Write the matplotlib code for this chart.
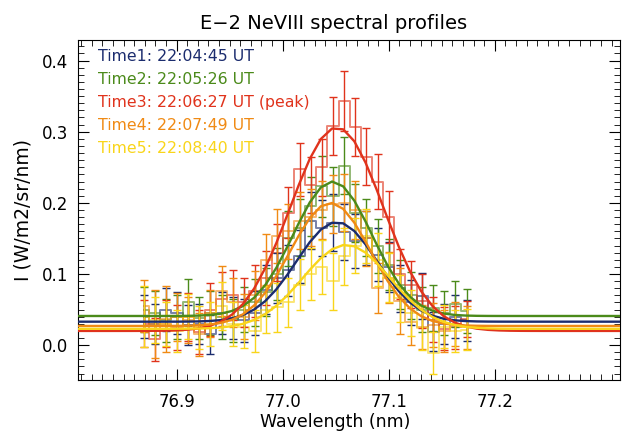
import numpy as np
import matplotlib
matplotlib.use("Agg")
import matplotlib.pyplot as plt
from matplotlib.ticker import MultipleLocator

# wavelength grid (nm), shared by all five profiles
wavelength = [76.8689, 76.8794, 76.8899, 76.9004, 76.9109, 76.9214, 76.9319, 76.9424,
              76.9529, 76.9634, 76.9739, 76.9844, 76.9949, 77.0054, 77.0159, 77.0264,
              77.0369, 77.0474, 77.0579, 77.0684, 77.0789, 77.0894, 77.0999, 77.1104,
              77.1209, 77.1314, 77.1419, 77.1524, 77.1629, 77.1734]

labels = ["Time1: 22:04:45 UT", "Time2: 22:05:26 UT", "Time3: 22:06:27 UT (peak)",
          "Time4: 22:07:49 UT", "Time5: 22:08:40 UT"]
colors = ["#1b2c6e", "#4b8a1a", "#e0331c", "#f08a14", "#f9d51a"]

# intensities, W/m2/sr/nm
t1 = [0.040, 0.030, 0.050, 0.045, 0.028, 0.030, 0.015, 0.045, 0.038, 0.035,
      0.045, 0.078, 0.094, 0.105, 0.125, 0.175, 0.165, 0.172, 0.159, 0.146,
      0.150, 0.127, 0.110, 0.080, 0.060, 0.069, 0.019, 0.030, 0.040, 0.035]
t2 = [0.050, 0.045, 0.035, 0.040, 0.060, 0.038, 0.045, 0.040, 0.035, 0.050,
      0.060, 0.075, 0.100, 0.150, 0.165, 0.195, 0.223, 0.209, 0.252, 0.186,
      0.165, 0.139, 0.113, 0.085, 0.070, 0.050, 0.052, 0.045, 0.058, 0.048]
t3 = [0.030, 0.008, 0.030, 0.025, 0.040, 0.018, 0.050, 0.065, 0.070, 0.060,
      0.076, 0.095, 0.130, 0.186, 0.247, 0.225, 0.250, 0.308, 0.343, 0.307,
      0.265, 0.230, 0.180, 0.100, 0.085, 0.062, 0.036, 0.023, 0.025, 0.037]
t4 = [0.055, 0.030, 0.037, 0.040, 0.035, 0.015, 0.045, 0.076, 0.060, 0.040,
      0.070, 0.120, 0.153, 0.160, 0.175, 0.180, 0.190, 0.198, 0.200, 0.190,
      0.150, 0.080, 0.095, 0.062, 0.032, 0.025, 0.028, 0.020, 0.030, 0.025]
t5 = [0.040, 0.035, 0.030, 0.020, 0.040, 0.025, 0.030, 0.055, 0.030, 0.026,
      0.020, 0.050, 0.053, 0.060, 0.085, 0.100, 0.110, 0.090, 0.125, 0.140,
      0.153, 0.120, 0.095, 0.066, 0.045, 0.024, -0.011, 0.026, 0.020, 0.022]

e1 = [0.030, 0.028, 0.030, 0.030, 0.028, 0.028, 0.027, 0.030, 0.030, 0.030,
      0.031, 0.034, 0.035, 0.036, 0.037, 0.040, 0.039, 0.040, 0.039, 0.038,
      0.038, 0.037, 0.035, 0.033, 0.032, 0.032, 0.027, 0.028, 0.030, 0.029]
e2 = [0.032, 0.031, 0.030, 0.031, 0.033, 0.030, 0.031, 0.031, 0.030, 0.032,
      0.033, 0.034, 0.036, 0.039, 0.040, 0.042, 0.043, 0.042, 0.040, 0.041,
      0.040, 0.038, 0.036, 0.034, 0.033, 0.032, 0.032, 0.031, 0.032, 0.031]
e3 = [0.033, 0.030, 0.033, 0.032, 0.034, 0.031, 0.037, 0.038, 0.035, 0.034,
      0.036, 0.038, 0.040, 0.036, 0.037, 0.039, 0.040, 0.041, 0.042, 0.041,
      0.040, 0.038, 0.036, 0.035, 0.033, 0.038, 0.032, 0.030, 0.030, 0.025]
e4 = [0.036, 0.048, 0.046, 0.034, 0.032, 0.030, 0.033, 0.035, 0.034, 0.032,
      0.034, 0.036, 0.038, 0.039, 0.040, 0.040, 0.041, 0.041, 0.040, 0.041,
      0.039, 0.035, 0.036, 0.047, 0.032, 0.031, 0.031, 0.030, 0.031, 0.030]
e5 = [0.043, 0.032, 0.031, 0.030, 0.032, 0.030, 0.031, 0.034, 0.031, 0.030,
      0.030, 0.033, 0.034, 0.035, 0.036, 0.037, 0.038, 0.040, 0.040, 0.039,
      0.038, 0.037, 0.035, 0.033, 0.032, 0.031, 0.030, 0.030, 0.030, 0.029]

# gaussian + constant fit parameters: base, amplitude, centre (nm), sigma (nm)
fit_base = [0.033, 0.041, 0.020, 0.027, 0.023]
fit_amp = [0.140, 0.189, 0.286, 0.173, 0.118]
fit_cen = [77.051, 77.047, 77.051, 77.045, 77.060]
fit_sig = [0.038, 0.037, 0.044, 0.038, 0.041]

profiles = [t1, t2, t3, t4, t5]
errors = [e1, e2, e3, e4, e5]

fig = plt.figure(figsize=(6.22, 4.36), dpi=100)
ax = fig.add_axes([0.1254, 0.1284, 0.8714, 0.78])

wl = np.array(wavelength)
dw = wl[1] - wl[0]
xfit = np.arange(76.70, 77.40, dw)

for y, e, c, b, a, m, s in zip(profiles, errors, colors, fit_base, fit_amp, fit_cen, fit_sig):
    ax.step(wl, y, where="mid", color=c, alpha=0.6, lw=1.4, zorder=2)
    ax.errorbar(wl, y, yerr=e, fmt="none", ecolor=c, elinewidth=1.0,
                capsize=3, capthick=1.0, zorder=3)
    ax.plot(xfit, b + a * np.exp(-0.5 * ((xfit - m) / s) ** 2), color=c, lw=1.7, zorder=4)

for i, (lab, c) in enumerate(zip(labels, colors)):
    ax.text(0.036, 0.951 - i * 0.0674, lab, color=c, fontsize=11.3,
            transform=ax.transAxes, va="center", ha="left")

ax.set_xlim(76.807, 77.318)
ax.set_ylim(-0.049, 0.429)
ax.xaxis.set_major_locator(MultipleLocator(0.1))
ax.xaxis.set_minor_locator(MultipleLocator(0.01))
ax.yaxis.set_major_locator(MultipleLocator(0.1))
ax.yaxis.set_minor_locator(MultipleLocator(0.01))
ax.tick_params(which="both", direction="in", top=True, right=True, labelsize=12)
ax.tick_params(which="major", length=8)
ax.tick_params(which="minor", length=4)
ax.set_xticks([76.9, 77.0, 77.1, 77.2])
ax.set_xticklabels(["76.9", "77.0", "77.1", "77.2"])
ax.set_yticks([0.0, 0.1, 0.2, 0.3, 0.4])
ax.set_yticklabels(["0.0", "0.1", "0.2", "0.3", "0.4"])
ax.tick_params(axis="x", pad=9)
ax.tick_params(axis="y", pad=7)

ax.set_xlabel("Wavelength (nm)", fontsize=12.5, labelpad=2, x=0.475)
ax.set_ylabel("I (W/m2/sr/nm)", fontsize=13.5, labelpad=7)
ax.set_title("E\u22122 NeVIII spectral profiles", fontsize=14, pad=8, x=0.472)

fig.savefig("out.png", dpi=100)
